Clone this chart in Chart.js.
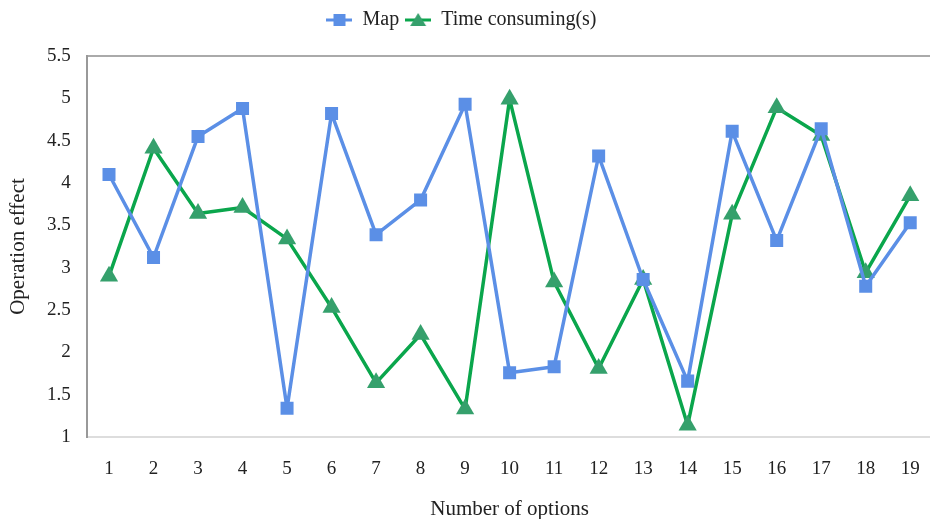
<!DOCTYPE html>
<html>
<head>
<meta charset="utf-8">
<script src="https://cdn.jsdelivr.net/npm/chart.js@4/dist/chart.umd.min.js"></script>
<style>
  html, body { margin: 0; padding: 0; background: #fff; overflow: hidden; }
  #wrap { width: 943px; height: 519px; position: relative; }
</style>
</head>
<body>
<div id="wrap"><canvas id="chart"></canvas></div>
<script>
const options = ["1", "2", "3", "4", "5", "6", "7", "8", "9", "10", "11", "12", "13", "14", "15", "16", "17", "18", "19"];
const mapValues = [4.1, 3.12, 4.55, 4.88, 1.34, 4.82, 3.39, 3.8, 4.93, 1.76, 1.83, 4.32, 2.86, 1.66, 4.61, 3.32, 4.64, 2.78, 3.53];
const timeValues = [2.9, 4.41, 3.64, 3.71, 3.34, 2.53, 1.64, 2.21, 1.33, 4.99, 2.83, 1.81, 2.86, 1.14, 3.63, 4.89, 4.56, 2.94, 3.85];
const yTicks = [1, 1.5, 2, 2.5, 3, 3.5, 4, 4.5, 5, 5.5];

const blue = "#5b8fe6";
const green = "#0aa64c";
const greenMark = "#35a06c";
const font = "'Liberation Serif', 'Times New Roman', serif";

function legendIcon(line, mark, shape) {
  const c = document.createElement("canvas");
  c.width = 26; c.height = 16;
  const g = c.getContext("2d");
  g.strokeStyle = line; g.lineWidth = 3;
  g.beginPath(); g.moveTo(0, 8); g.lineTo(26, 8); g.stroke();
  g.fillStyle = mark;
  if (shape === "rect") g.fillRect(7, 2, 12, 12);
  else { g.beginPath(); g.moveTo(13, 1); g.lineTo(21, 14); g.lineTo(5, 14); g.closePath(); g.fill(); }
  return c;
}
const icons = [legendIcon(blue, blue, "rect"), legendIcon(green, greenMark, "tri")];

// extra room under the legend, and nudge it left so it centres like the original
const legendGap = {
  id: "legendGap",
  beforeInit(chart) {
    const fit = chart.legend.fit;
    chart.legend.fit = function () { fit.call(this); this.height += 16; };
  },
  afterLayout(chart) {
    chart.legend.left -= 14;
    chart.legend.right -= 14;
  }
};

new Chart(document.getElementById("chart"), {
  type: "line",
  data: {
    labels: options,
    datasets: [
      { label: "Map", data: mapValues, borderColor: blue, backgroundColor: blue, borderWidth: 3.5, borderJoinStyle: "round", pointStyle: "rect", pointRadius: 9.2, pointBackgroundColor: blue, pointBorderWidth: 0, tension: 0 },
      { label: "Time consuming(s)", data: timeValues, borderColor: green, backgroundColor: greenMark, borderWidth: 3.5, borderJoinStyle: "round", pointStyle: "triangle", pointRadius: 10.5, pointBackgroundColor: greenMark, pointBorderWidth: 0, tension: 0 }
    ]
  },
  plugins: [legendGap],
  options: {
    responsive: true,
    maintainAspectRatio: false,
    animation: false,
    layout: { padding: { top: 4, left: 8, right: 0, bottom: 0 } },
    plugins: {
      tooltip: { enabled: false },
      legend: {
        position: "top",
        labels: {
          font: { family: font, size: 20 },
          color: "#222",
          usePointStyle: true,
          pointStyleWidth: 26,
          padding: 6,
          boxWidth: 26,
          generateLabels: chart => chart.data.datasets.map((d, i) => ({ text: d.label, pointStyle: icons[i], datasetIndex: i, fontColor: "#222", lineWidth: 0, strokeStyle: "transparent", fillStyle: "transparent" }))
        }
      }
    },
    scales: {
      x: {
        offset: true,
        grid: { display: false, drawTicks: false },
        border: { color: "#dddddd", width: 2 },
        ticks: { font: { family: font, size: 19, lineHeight: 0.9 }, color: "#222", padding: 23 },
        title: { display: true, text: "Number of options", font: { family: font, size: 21, lineHeight: 0.9 }, color: "#222", padding: { top: 0, bottom: 0 } }
      },
      y: {
        min: 1, max: 5.5,
        afterBuildTicks: axis => { axis.ticks = yTicks.map(v => ({ value: v })); },
        grid: { drawTicks: false, color: ctx => ctx.tick && ctx.tick.value === 5.5 ? "#aaaaaa" : "transparent", lineWidth: 2 },
        border: { color: "#999999", width: 2 },
        ticks: { font: { family: font, size: 19 }, color: "#222", padding: 16, callback: v => String(v) },
        title: { display: true, text: "Operation effect", font: { family: font, size: 21, lineHeight: 1 }, color: "#222", padding: { top: 0, bottom: 2 } }
      }
    }
  }
});
</script>
</body>
</html>
